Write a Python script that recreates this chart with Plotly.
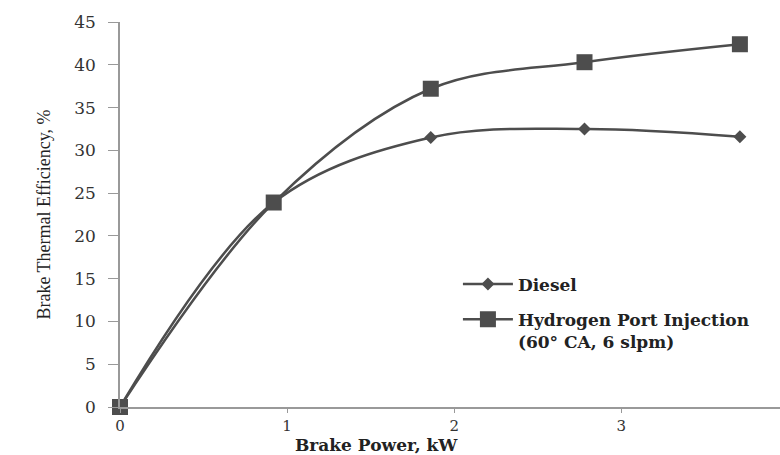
import plotly.graph_objects as go

brake_power = [0, 0.92, 1.86, 2.78, 3.71]
diesel = [0, 23.9, 31.5, 32.5, 31.6]
hydrogen = [0, 23.9, 37.2, 40.3, 42.4]
x_ticks = [0, 1, 2, 3, 4]
y_ticks = [0, 5, 10, 15, 20, 25, 30, 35, 40, 45]

col = "#4d4d4d"
serif = "DejaVu Serif"

fig = go.Figure()
fig.add_trace(go.Scatter(
    x=brake_power, y=diesel, name="Diesel", mode="lines+markers",
    legendgroup="d", cliponaxis=False,
    line=dict(color=col, width=2.5, shape="spline", smoothing=1),
    marker=dict(symbol="diamond", size=10, color=col),
))
fig.add_trace(go.Scatter(
    x=brake_power, y=hydrogen, name="Hydrogen Port Injection<br>(60° CA, 6 slpm)",
    mode="lines+markers", legendgroup="h", cliponaxis=False,
    line=dict(color=col, width=2.5, shape="spline", smoothing=1),
    marker=dict(symbol="square", size=16, color=col),
))

fig.add_annotation(
    text="<b>Brake Power, kW</b>", xref="paper", yref="paper",
    x=0.388, y=-0.099, xanchor="center", yanchor="middle", showarrow=False,
    font=dict(family=serif, size=17, color="#222"),
)

fig.update_layout(
    width=780, height=455,
    margin=dict(l=120, r=0, t=22, b=48),
    paper_bgcolor="white", plot_bgcolor="white",
    font=dict(family=serif, size=16, color="#333"),
    showlegend=True,
    legend=dict(x=0.512, y=0.365, xanchor="left", yanchor="top", valign="top",
                bgcolor="rgba(0,0,0,0)", font=dict(family=serif, size=17, color="#222", weight="bold"),
                tracegroupgap=10, itemwidth=50),
    xaxis=dict(range=[0, 3.95], tickvals=x_ticks, showgrid=False, zeroline=False,
               showline=True, linecolor="#999", linewidth=1.5,
               ticks="outside", ticklen=4, tickcolor="#999",
               tickfont=dict(family=serif, size=15, color="#333"), ticklabelstandoff=0),
    yaxis=dict(range=[0, 45], tickvals=y_ticks, showgrid=False, zeroline=False,
               showline=True, linecolor="#999", linewidth=1.5,
               ticks="outside", ticklen=10, tickcolor="#999",
               tickfont=dict(family=serif, size=17, color="#333"), ticklabelstandoff=9,
               title=dict(text="Brake Thermal Efficiency, %",
                          font=dict(family="Liberation Serif", size=18, color="#222"),
                          standoff=19)),
)

fig.write_html("out.html")
